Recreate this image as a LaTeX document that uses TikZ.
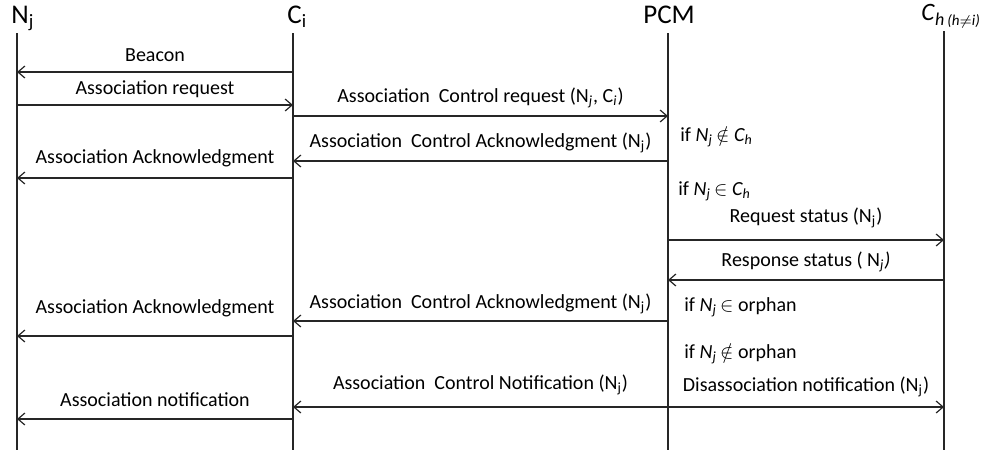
\documentclass[tikz,border=0pt]{standalone}
\usepackage{fontspec}
\setmainfont{Carlito}
\usetikzlibrary{arrows.meta}

\tikzset{
  msg/.style={-{Straight Barb[length=3.5pt,width=6pt]}, line width=0.6pt, draw=black!85},
  life/.style={line width=0.6pt, draw=black!85},
  lbl/.style={font=\fontsize{10}{12}\selectfont, inner sep=0pt},
  hdr/.style={font=\fontsize{13.5}{15}\selectfont, inner sep=0pt}
}

\begin{document}
\begin{tikzpicture}[x=0.5pt,y=-0.5pt]
  \useasboundingbox (0,0) rectangle (984,457);

  % lifelines
  \coordinate (Nj) at (17,33);
  \coordinate (Ci) at (293,33);
  \coordinate (PCM) at (668,33);
  \coordinate (Ch) at (944,31);
  \coordinate (bot) at (0,450);

  \node[hdr, anchor=base west] (tNj) at (11,23) {N\textsubscript{j}};
  \node[hdr, anchor=base west] (tCi) at (287,23) {C\textsubscript{i}};
  \node[hdr, anchor=base] (tPCM) at (669,23) {PCM};
  \node[hdr, anchor=base west] (tCh) at (921,20)
    {\fontsize{12.5}{15}\selectfont\textit{C}\raisebox{-2.5pt}{\fontsize{9}{10}\selectfont\textit{h}\,\fontsize{7.5}{9}\selectfont\textit{(h$\neq$i)}}};

  \draw[life] (Nj) -- (Nj |- bot);
  \draw[life] (Ci) -- (Ci |- bot);
  \draw[life] (PCM) -- (PCM |- bot);
  \draw[life] (Ch) -- (Ch |- bot);

  % message rows
  \coordinate (m1) at (0,72);
  \coordinate (m2) at (0,105);
  \coordinate (m3) at (0,116);
  \coordinate (m4) at (0,161);
  \coordinate (m5) at (0,178);
  \coordinate (m6) at (0,240);
  \coordinate (m7) at (0,280);
  \coordinate (m8) at (0,321);
  \coordinate (m9) at (0,336);
  \coordinate (m10) at (0,407);
  \coordinate (m11) at (0,419);

  \draw[msg] (Ci |- m1) -- node[lbl, above=5pt] (lBeacon) {Beacon} (Nj |- m1);
  \draw[msg] (Nj |- m2) -- node[lbl, above=3.5pt] (lAssReq) {Association request} (Ci |- m2);
  \draw[msg] (Ci |- m3) -- node[lbl, above=4pt] (lCtrlReq) {Association\ \ Control request (N\textsubscript{\textit{j}}, C\textsubscript{\textit{i}})} (PCM |- m3);
  \draw[msg] (PCM |- m4) -- node[lbl, above=4pt] (lCtrlAck1) {Association\ \ Control Acknowledgment (N\textsubscript{j})} (Ci |- m4);
  \draw[msg] (Ci |- m5) -- node[lbl, above=5pt] (lAssAck1) {Association Acknowledgment} (Nj |- m5);

  \node[lbl, anchor=west] (cNotIn) at (680,137) {if \textit{N\textsubscript{j}}\,$\notin$ \textit{C\textsubscript{h}}};
  \node[lbl, anchor=west] (cIn) at (678,191) {if \textit{N\textsubscript{j}}\,$\in$ \textit{C\textsubscript{h}}};

  \draw[msg] (PCM |- m6) -- node[lbl, above=6pt] (lReqStat) {Request status (N\textsubscript{j})} (Ch |- m6);
  \draw[msg] (Ch |- m7) -- node[lbl, above=4pt] (lRespStat) {Response status ( N\textsubscript{\textit{j}}\textit{)}} (PCM |- m7);
  \draw[msg] (PCM |- m8) -- node[lbl, above=3.5pt] (lCtrlAck2) {Association\ \ Control Acknowledgment (N\textsubscript{j})} (Ci |- m8);
  \draw[msg] (Ci |- m9) -- node[lbl, above=9pt] (lAssAck2) {Association Acknowledgment} (Nj |- m9);

  \node[lbl, anchor=west] (cOrph) at (684,307) {if \textit{N\textsubscript{j}}\,$\in$ orphan};
  \node[lbl, anchor=west] (cNotOrph) at (684,354) {if \textit{N\textsubscript{j}}\,$\notin$ orphan};

  \draw[msg] (PCM |- m10) -- node[lbl, above=6pt] (lCtrlNot) {Association\ \ Control Notification (N\textsubscript{j})} (Ci |- m10);
  \draw[msg] (PCM |- m10) -- node[lbl, above=5pt] (lDisNot) {Disassociation notification (N\textsubscript{j})} (Ch |- m10);
  \draw[msg] (Ci |- m11) -- node[lbl, above=6pt] (lAssNot) {Association notification} (Nj |- m11);
\end{tikzpicture}
\end{document}
